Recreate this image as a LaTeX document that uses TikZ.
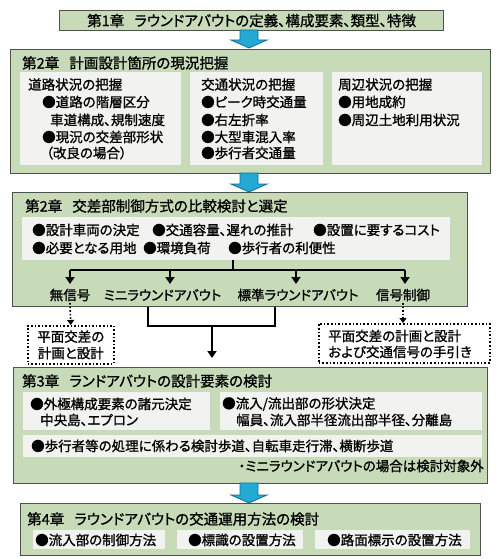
\documentclass[tikz,border=0pt]{standalone}
\usepackage{fontspec}
\setmainfont{Noto Sans CJK JP}[RawFeature=+palt, FakeBold=1.1]
\usetikzlibrary{arrows.meta,calc}
\definecolor{boxgreen}{HTML}{C8DBB8}
\definecolor{boxedge}{HTML}{505050}
\definecolor{innerfill}{HTML}{F2F2F0}
\definecolor{arrowblue}{HTML}{22AAD4}
\definecolor{arrowedge}{HTML}{1B6E8C}
\newcommand{\blockarr}[3]{%
  \draw[blk] (#1-9,#2) -- (#1-9,#3-8) -- (#1-18,#3-8) -- (#1,#3) -- (#1+18,#3-8) -- (#1+9,#3-8) -- (#1+9,#2) -- cycle;}
\newcommand{\chgap}{\hspace{0.7em}}
\begin{document}
\begin{tikzpicture}[x=1pt,y=-1pt,
  chbox/.style={draw=boxedge, fill=boxgreen, line width=1.2pt, anchor=north west, inner sep=0pt},
  inbox/.style={fill=innerfill, draw=none, anchor=north west, inner sep=0pt},
  tx/.style={anchor=west, inner sep=0pt, font=\fontsize{13.5}{16}\selectfont},
  ttl/.style={anchor=west, inner sep=0pt, font=\fontsize{14.5}{17}\selectfont},
  lbl/.style={anchor=center, inner sep=0pt, font=\fontsize{13.5}{16}\selectfont},
  conn/.style={line width=2.2pt, black},
  arr/.style={conn, -{Triangle[length=7pt,width=9pt]}},
  dotarr/.style={line width=1.6pt, dotted, -{Triangle[length=5pt,width=7pt]}},
  dotbox/.style={draw, line width=1.6pt, dotted, anchor=north west, inner sep=0pt},
  blk/.style={fill=arrowblue, draw=arrowedge, line width=0.8pt}
]
\fill[white] (0,0) rectangle (500,559);
\useasboundingbox (0,0) rectangle (500,559);

% Chapter 1
\node[chbox, minimum width=384pt, minimum height=20pt, font=\fontsize{14.5}{17}\selectfont] (ch1) at (59,10) {第1章\chgap ラウンドアバウトの定義、構成要素、類型、特徴};
\blockarr{249}{30}{48}

% Chapter 2
\node[chbox, minimum width=480pt, minimum height=124pt] (ch2) at (10,49) {};
\node[ttl] (ch2t) at (22,63) {第2章\chgap 計画設計箇所の現況把握};
\node[inbox, minimum width=161pt, minimum height=93pt] (b1) at (20,72) {};
\node[inbox, minimum width=133pt, minimum height=93pt] (b2) at (190,72) {};
\node[inbox, minimum width=150pt, minimum height=93pt] (b3) at (332,72) {};
\node[tx] (b1a) at (28,84.5) {道路状況の把握};
\node[tx] (b1b) at (42,102) {●道路の階層区分};
\node[tx] (b1c) at (50,120) {車道構成、規制速度};
\node[tx] (b1d) at (42,137) {●現況の交差部形状};
\node[tx] (b1e) at (46,153) {（改良の場合）};
\node[tx] (b2a) at (201,84.5) {交通状況の把握};
\node[tx] (b2b) at (201,102) {●ピーク時交通量};
\node[tx] (b2c) at (201,120) {●右左折率};
\node[tx] (b2d) at (201,137) {●大型車混入率};
\node[tx] (b2e) at (201,153) {●歩行者交通量};
\node[tx] (b3a) at (338,84.5) {周辺状況の把握};
\node[tx] (b3b) at (338,102) {●用地成約};
\node[tx] (b3c) at (338,120) {●周辺土地利用状況};
\blockarr{249}{173}{192}

% Chapter 2 (control method)
\node[chbox, minimum width=455pt, minimum height=114pt] (ch2b) at (12,192) {};
\node[ttl] (ch2bt) at (25,206) {第2章\chgap 交差部制御方式の比較検討と選定};
\node[inbox, minimum width=428pt, minimum height=43pt] (crit) at (22,217) {};
\node[tx] (k1) at (32,230) {●設計車両の決定};
\node[tx] (k2) at (152,230) {●交通容量、遅れの推計};
\node[tx] (k3) at (313,230) {●設置に要するコスト};
\node[tx] (k4) at (32,248) {●必要となる用地};
\node[tx] (k5) at (143,248) {●環境負荷};
\node[tx] (k6) at (228,248) {●歩行者の利便性};

\coordinate (bus) at (233,270);
\coordinate (d1) at (70,270);
\coordinate (d2) at (170,270);
\coordinate (d3) at (296,270);
\coordinate (d4) at (405,270);
\node[lbl] (m1) at (70,295) {無信号};
\node[lbl] (m2) at (162.5,295) {ミニラウンドアバウト};
\node[lbl] (m3) at (298,295) {標準ラウンドアバウト};
\node[lbl] (m4) at (403,295) {信号制御};
\draw[conn] (crit.south -| bus) -- (bus);
\draw[conn] (d1) -- (d4);
\draw[arr] (d1) -- (d1 |- 0,284);
\draw[arr] (d2) -- (d2 |- 0,284);
\draw[arr] (d3) -- (d3 |- 0,284);
\draw[arr] (d4) -- (d4 |- 0,284);

% dotted references
\node[dotbox, minimum width=86pt, minimum height=38pt, align=center, font=\fontsize{13.5}{16.5}\selectfont] (refL) at (27,325) {平面交差の\\計画と設計};
\node[dotbox, minimum width=171pt, minimum height=39pt] (refR) at (318,323) {};
\node[tx] (refR1) at (328,336) {平面交差の計画と設計};
\node[tx] (refR2) at (328,352) {および交通信号の手引き};
\draw[dotarr] (m1.south |- 0,303) -- (refL.north);
\draw[dotarr] (m4.south |- 0,303) -- (refR.north -| m4);

% roundabout merge
\coordinate (jl) at (148,326);
\coordinate (jr) at (275,326);
\coordinate (jm) at (212,326);
\draw[conn] (ch2b.south -| jl) -- (jl) -- (jr) -- (ch2b.south -| jr);

% Chapter 3
\node[chbox, minimum width=474pt, minimum height=116pt] (ch3) at (13,367) {};
\draw[arr] (jm) -- ($(jm |- ch3.north)+(0,-9)$);
\node[ttl] (ch3t) at (22,381) {第3章\chgap ランドアバウトの設計要素の検討};
\node[inbox, minimum width=187pt, minimum height=38pt] (c1) at (23,392) {};
\node[inbox, minimum width=262pt, minimum height=38pt] (c2) at (220,392) {};
\node[inbox, minimum width=459pt, minimum height=22pt] (c3) at (23,435) {};
\node[tx] (c1a) at (30,404) {●外極構成要素の諸元決定};
\node[tx] (c1b) at (40,420) {中央島、エプロン};
\node[tx] (c2a) at (222,404) {●流入/流出部の形状決定};
\node[tx] (c2b) at (236,420) {幅員、流入部半径流出部半径、分離島};
\node[tx] (c3a) at (31,446) {●歩行者等の処理に係わる検討歩道、自転車走行滞、横断歩道};
\node[tx, anchor=east] (note) at (484,466) {・ミニラウンドアバウトの場合は検討対象外};
\blockarr{249}{483}{503}

% Chapter 4
\node[chbox, minimum width=460pt, minimum height=52pt] (ch4) at (20,503) {};
\node[ttl] (ch4t) at (27,519) {第4章\chgap ラウンドアバウトの交通運用方法の検討};
\node[inbox, minimum width=132pt, minimum height=19pt] (e1) at (33,530) {};
\node[inbox, minimum width=126pt, minimum height=19pt] (e2) at (177,530) {};
\node[inbox, minimum width=155pt, minimum height=19pt] (e3) at (315,530) {};
\node[tx] (e1t) at (35,540) {●流入部の制御方法};
\node[tx] (e2t) at (188,540) {●標識の設置方法};
\node[tx] (e3t) at (327,540) {●路面標示の設置方法};
\end{tikzpicture}
\end{document}
